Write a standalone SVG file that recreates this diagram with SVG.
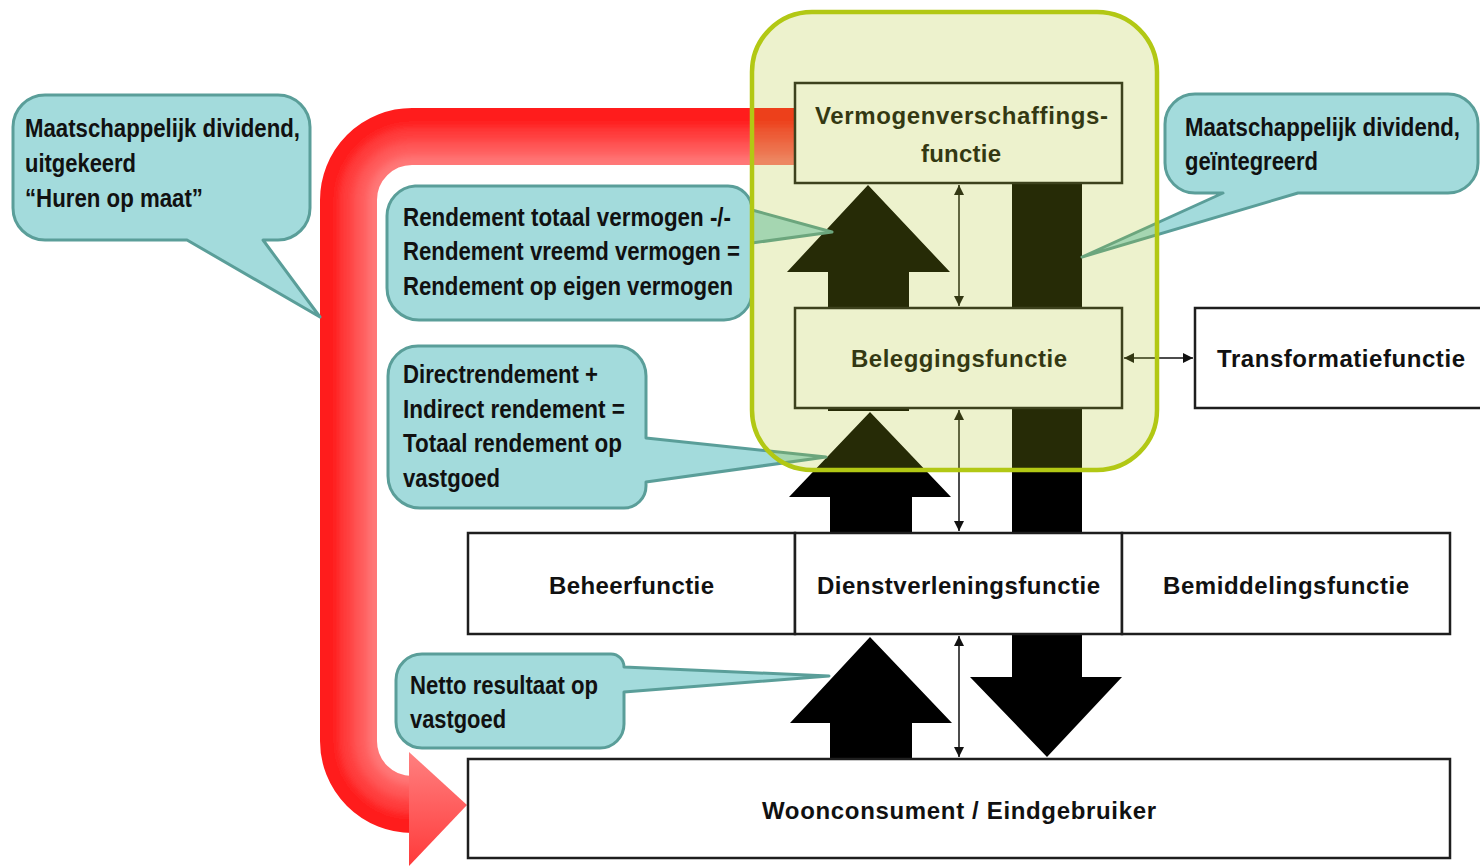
<svg xmlns="http://www.w3.org/2000/svg" width="1480" height="866" viewBox="0 0 1480 866">
<style>
.box{fill:#fff;stroke:#1e1e1e;stroke-width:2.5}
.bt{font-family:"Liberation Sans",Arial,sans-serif;font-weight:bold;font-size:24px;fill:#111;text-anchor:middle}
.ct{font-family:"Liberation Sans",Arial,sans-serif;font-weight:bold;font-size:25px;fill:#111}
.call{fill:#a3dbdc;stroke:#5a9e99;stroke-width:3;stroke-linejoin:round}
.blk{fill:#000}
.thin{stroke:#111;stroke-width:1.5;fill:none;marker-start:url(#ah);marker-end:url(#ah)}
</style>
<defs>
<marker id="ah" viewBox="0 0 10 10" refX="10" refY="5" markerWidth="11" markerHeight="10" markerUnits="userSpaceOnUse" orient="auto-start-reverse">
<path d="M0,0 L10,5 L0,10 Z" fill="#111"/>
</marker>
<filter id="soft" x="-5%" y="-5%" width="110%" height="110%"><feGaussianBlur stdDeviation="4"/></filter>
<mask id="bandMask" maskUnits="userSpaceOnUse" x="0" y="0" width="1480" height="866">
<path d="M 800,136.5 H 412 A 63.5 63.5 0 0 0 348.5,200 V 741 A 63.5 63.5 0 0 0 412,804.5 H 416" stroke="#fff" stroke-width="57" fill="none"/>
</mask>
<linearGradient id="headGrad" x1="0" y1="0" x2="0" y2="1">
<stop offset="0" stop-color="#ff8080"/>
<stop offset="1" stop-color="#ff3a3a"/>
</linearGradient>
</defs>

<g id="red-flow">
<g mask="url(#bandMask)">
<g filter="url(#soft)" fill="none">
<path d="M 820,128 H 412 A 72 72 0 0 0 340,200 V 741 A 72 72 0 0 0 412,813 H 420" stroke="#ff1e1e" stroke-width="80"/>
<path d="M 820,153 H 412 A 47 47 0 0 0 365,200 V 741 A 47 47 0 0 0 412,788 H 420" stroke="#ff3e3e" stroke-width="50"/>
<path d="M 820,160 H 412 A 40 40 0 0 0 372,200 V 741 A 40 40 0 0 0 412,781 H 420" stroke="#ff5a5a" stroke-width="36"/>
<path d="M 820,168 H 412 A 32 32 0 0 0 380,200 V 741 A 32 32 0 0 0 412,773 H 420" stroke="#ff7878" stroke-width="24"/>
</g>
</g>
<polygon points="409,752 467,805 409,866" fill="url(#headGrad)"/>
</g>

<g id="flow-arrows">
<polygon class="blk" points="868,185 950,272 909,272 909,411 828,411 828,272 787,272"/>
<polygon class="blk" points="870,412 951,497 912,497 912,533 830,533 830,497 789,497"/>
<polygon class="blk" points="870,637 952,723 912,723 912,759 830,759 830,723 790,723"/>
<polygon class="blk" points="1012,183 1082,183 1082,677 1122,677 1047,757 970,677 1012,677"/>
</g>

<g id="node-vermogen">
<rect class="box" x="795" y="83" width="327" height="100"/>
<text class="bt" x="961.5" y="124" textLength="293">Vermogenverschaffings-</text>
<text class="bt" x="961" y="162" textLength="80">functie</text>
</g>
<g id="node-belegging">
<rect class="box" x="795" y="308" width="327" height="100"/>
<text class="bt" x="959" y="367" textLength="216">Beleggingsfunctie</text>
</g>
<g id="node-transformatie">
<rect class="box" x="1195" y="308" width="300" height="100"/>
<text class="bt" x="1217" y="367" textLength="248" style="text-anchor:start">Transformatiefunctie</text>
</g>
<g id="node-beheer">
<rect class="box" x="468" y="533" width="327" height="101"/>
<text class="bt" x="631.5" y="594" textLength="165">Beheerfunctie</text>
</g>
<g id="node-dienst">
<rect class="box" x="795" y="533" width="327" height="101"/>
<text class="bt" x="958.5" y="594" textLength="283">Dienstverleningsfunctie</text>
</g>
<g id="node-bemiddeling">
<rect class="box" x="1122" y="533" width="328" height="101"/>
<text class="bt" x="1286" y="594" textLength="246">Bemiddelingsfunctie</text>
</g>
<g id="node-woonconsument">
<rect class="box" x="468" y="759" width="982" height="99"/>
<text class="bt" x="959" y="819" textLength="394">Woonconsument / Eindgebruiker</text>
</g>

<g id="connectors">
<line class="thin" x1="959" y1="185" x2="959" y2="306"/>
<line class="thin" x1="959" y1="410" x2="959" y2="531"/>
<line class="thin" x1="959" y1="636" x2="959" y2="757"/>
<line class="thin" x1="1124" y1="358" x2="1193" y2="358"/>
</g>

<g id="callout-uitgekeerd">
<path class="call" d="M 45,95 H 278 A 32 32 0 0 1 310,127 V 208 A 32 32 0 0 1 278,240 H 263 L 320,317 L 187,240 H 45 A 32 32 0 0 1 13,208 V 127 A 32 32 0 0 1 45,95 Z"/>
<text class="ct" x="25" y="137" textLength="275" lengthAdjust="spacingAndGlyphs">Maatschappelijk dividend,</text>
<text class="ct" x="25" y="172" textLength="111" lengthAdjust="spacingAndGlyphs">uitgekeerd</text>
<text class="ct" x="25" y="207" textLength="178" lengthAdjust="spacingAndGlyphs">“Huren op maat”</text>
</g>
<g id="callout-rendement-ev">
<path class="call" d="M 415,186 H 728 A 24 24 0 0 1 752,210 L 832,232 L 752,243 V 292 A 28 28 0 0 1 724,320 H 419 A 32 32 0 0 1 387,288 V 216 A 30 30 0 0 1 415,186 Z"/>
<text class="ct" x="403" y="226" textLength="328" lengthAdjust="spacingAndGlyphs">Rendement totaal vermogen -/-</text>
<text class="ct" x="403" y="260" textLength="337" lengthAdjust="spacingAndGlyphs">Rendement vreemd vermogen =</text>
<text class="ct" x="403" y="295" textLength="330" lengthAdjust="spacingAndGlyphs">Rendement op eigen vermogen</text>
</g>
<g id="callout-totaal-rendement">
<path class="call" d="M 418,346 H 616 A 30 30 0 0 1 646,376 V 438 L 826,457 L 646,482 V 486 A 22 22 0 0 1 624,508 H 420 A 32 32 0 0 1 388,476 V 376 A 30 30 0 0 1 418,346 Z"/>
<text class="ct" x="403" y="383" textLength="195" lengthAdjust="spacingAndGlyphs">Directrendement +</text>
<text class="ct" x="403" y="418" textLength="222" lengthAdjust="spacingAndGlyphs">Indirect rendement =</text>
<text class="ct" x="403" y="452" textLength="219" lengthAdjust="spacingAndGlyphs">Totaal rendement op</text>
<text class="ct" x="403" y="487" textLength="97" lengthAdjust="spacingAndGlyphs">vastgoed</text>
</g>
<g id="callout-netto">
<path class="call" d="M 422,654 H 611 A 13 13 0 0 1 624,667 L 829,676 L 624,692 V 724 A 24 24 0 0 1 600,748 H 422 A 26 26 0 0 1 396,722 V 680 A 26 26 0 0 1 422,654 Z"/>
<text class="ct" x="410" y="694" textLength="188" lengthAdjust="spacingAndGlyphs">Netto resultaat op</text>
<text class="ct" x="410" y="728" textLength="96" lengthAdjust="spacingAndGlyphs">vastgoed</text>
</g>
<g id="callout-geintegreerd">
<path class="call" d="M 1195,94 H 1448 A 30 30 0 0 1 1478,124 V 163 A 30 30 0 0 1 1448,193 H 1298 L 1082,257 L 1223,193 H 1195 A 30 30 0 0 1 1165,163 V 124 A 30 30 0 0 1 1195,94 Z"/>
<g transform="translate(1185,0) scale(0.888,1)">
<text class="ct" x="0" y="136" textLength="309.7" lengthAdjust="spacingAndGlyphs">Maatschappelijk dividend,</text>
<text class="ct" x="0" y="170" textLength="149.8" lengthAdjust="spacingAndGlyphs">geïntegreerd</text>
</g>
</g>

<g id="group-highlight">
<rect x="752" y="12" width="405" height="458" rx="60" ry="60" fill="#afc61c" fill-opacity="0.22" stroke="#b2c814" stroke-width="4.5"/>
</g>
</svg>
